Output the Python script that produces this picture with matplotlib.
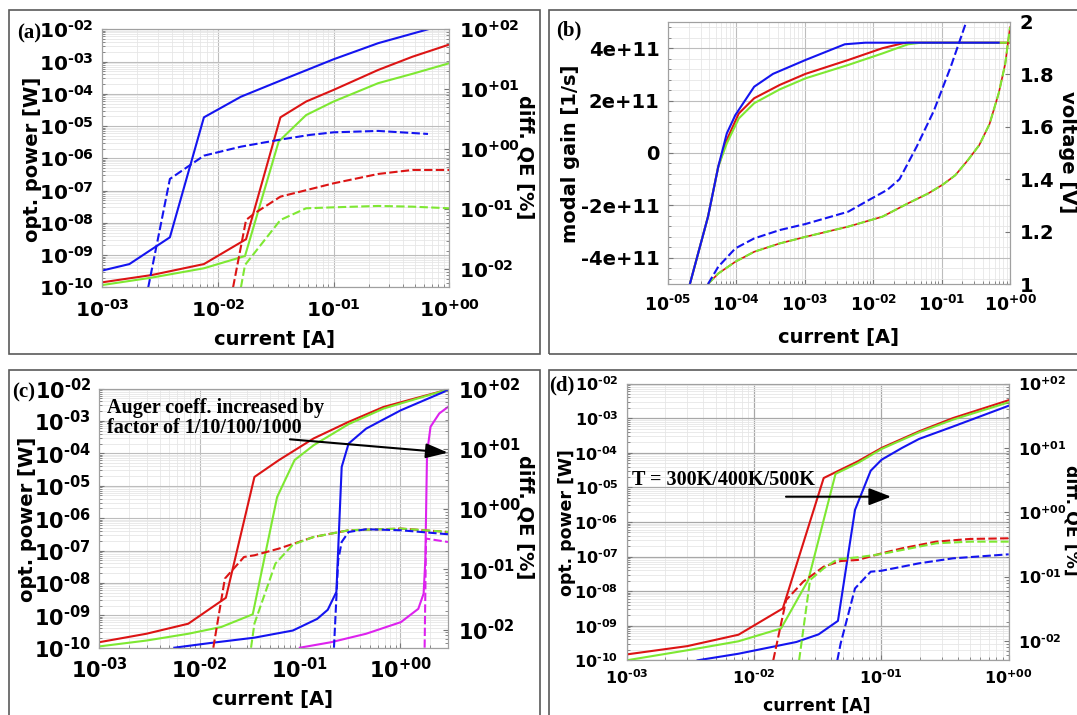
import numpy as np
import matplotlib
matplotlib.use('Agg')
import matplotlib.pyplot as plt
from matplotlib.patches import Rectangle
from matplotlib.ticker import LogLocator, FuncFormatter, MultipleLocator, AutoMinorLocator, NullFormatter

plt.rcParams['font.family'] = 'DejaVu Sans'
plt.rcParams['font.weight'] = 'bold'
plt.rcParams['mathtext.fontset'] = 'custom'
plt.rcParams['mathtext.rm'] = 'DejaVu Sans:bold'
plt.rcParams['mathtext.bf'] = 'DejaVu Sans:bold'
plt.rcParams['mathtext.it'] = 'DejaVu Sans:bold:italic'
plt.rcParams['mathtext.default'] = 'rm'

# ---- data (log10 of current [A], log10 of power [W] / QE [%]) ----
# (a)
a_blue_I = [-3.0, -2.766, -2.416, -2.122, -1.802, -1.446, -1.002, -0.616, -0.186, 0.0]
a_blue_P = [-9.48, -9.28, -8.45, -4.73, -4.09, -3.57, -2.93, -2.43, -2.0, -1.81]
a_red_I = [-3.0, -2.573, -2.122, -1.758, -1.461, -1.239, -1.002, -0.616, -0.320, 0.0]
a_red_P = [-9.845, -9.62, -9.28, -8.51, -4.73, -4.24, -3.88, -3.26, -2.85, -2.47]
a_green_I = [-3.0, -2.573, -2.122, -1.767, -1.476, -1.239, -1.002, -0.616, -0.320, 0.0]
a_green_P = [-9.93, -9.70, -9.41, -9.03, -5.48, -4.66, -4.24, -3.67, -3.38, -3.05]
a_blue_qI = [-2.603, -2.416, -2.122, -1.802, -1.446, -1.209, -1.002, -0.616, -0.186]
a_blue_Q = [-2.3, -0.494, -0.106, 0.044, 0.167, 0.239, 0.283, 0.306, 0.256]
a_red_qI = [-1.870, -1.758, -1.684, -1.461, -1.209, -1.002, -0.616, -0.320, 0.0]
a_red_Q = [-2.3, -1.178, -1.067, -0.789, -0.667, -0.567, -0.411, -0.344, -0.344]
a_green_qI = [-1.802, -1.767, -1.461, -1.239, -1.002, -0.616, -0.320, 0.0]
a_green_Q = [-2.3, -1.928, -1.178, -0.983, -0.967, -0.944, -0.956, -0.983]

# (b) modal gain [1e11 1/s] and voltage [V]
b_blue_I = [-4.68, -4.415, -4.265, -4.14, -4.015, -3.74, -3.465, -2.99, -2.415, -2.115, -0.165]
b_blue_G = [-5.0, -2.43, -0.52, 0.75, 1.45, 2.53, 3.02, 3.55, 4.15, 4.21, 4.21]
b_red_I = [-4.68, -4.415, -4.265, -4.14, -3.965, -3.74, -3.365, -2.99, -2.365, -1.865, -1.565, -1.49, 0.0]
b_red_G = [-5.0, -2.43, -0.52, 0.5, 1.51, 2.09, 2.60, 3.02, 3.55, 4.0, 4.19, 4.21, 4.21]
b_green_I = [-4.68, -4.415, -4.265, -4.14, -3.965, -3.74, -3.365, -2.99, -2.365, -1.865, -1.49, -1.3, 0.0]
b_green_G = [-5.0, -2.43, -0.52, 0.37, 1.32, 1.90, 2.43, 2.85, 3.36, 3.80, 4.15, 4.21, 4.21]
b_blue_vI = [-4.415, -4.265, -4.015, -3.74, -3.365, -2.99, -2.365, -2.06, -1.79, -1.615, -1.365, -1.115, -0.865, -0.64]
b_blue_V = [1.0, 1.066, 1.136, 1.174, 1.206, 1.229, 1.276, 1.321, 1.36, 1.40, 1.524, 1.66, 1.83, 2.0]
b_rg_vI = [-4.415, -4.265, -4.015, -3.74, -3.365, -2.99, -2.365, -1.865, -1.49, -1.2, -0.99,
           -0.8, -0.615, -0.45, -0.3, -0.165, -0.07, 0.0]
b_rg_V = [1.0, 1.04, 1.085, 1.123, 1.155, 1.18, 1.219, 1.257, 1.308, 1.345, 1.378,
          1.415, 1.473, 1.53, 1.61, 1.728, 1.84, 1.98]

# (c)
c_red_I = [-3.0, -2.531, -2.113, -1.738, -1.453, -1.209, -0.862, -0.514, -0.166, 0.477]
c_red_P = [-9.83, -9.57, -9.26, -8.46, -4.73, -4.21, -3.54, -3.03, -2.57, -2.03]
c_green_I = [-3.0, -2.531, -2.113, -1.783, -1.470, -1.227, -1.053, -0.862, -0.514, -0.166, 0.477]
c_green_P = [-9.96, -9.78, -9.57, -9.36, -8.97, -5.35, -4.21, -3.75, -3.10, -2.62, -2.03]
c_blue_I = [-2.252, -1.905, -1.453, -1.070, -0.827, -0.722, -0.636, -0.583, -0.514, -0.340, 0.008, 0.477]
c_blue_P = [-10.0, -9.86, -9.69, -9.47, -9.11, -8.83, -8.28, -4.42, -3.70, -3.24, -2.67, -2.05]
c_mag_I = [-1.0, -0.688, -0.340, 0.008, 0.181, 0.234, 0.251, 0.268, 0.303, 0.390, 0.477]
c_mag_P = [-10.0, -9.83, -9.57, -9.21, -8.80, -8.33, -7.30, -4.0, -3.18, -2.77, -2.57]
c_red_qI = [-1.863, -1.748, -1.557, -1.453, -1.209, -0.862, -0.514, 0.008, 0.477]
c_red_Q = [-2.3, -1.154, -0.795, -0.767, -0.656, -0.463, -0.352, -0.324, -0.380]
c_green_qI = [-1.487, -1.453, -1.244, -1.070, -0.862, -0.514, 0.008, 0.477]
c_green_Q = [-2.3, -1.90, -0.905, -0.59, -0.463, -0.352, -0.324, -0.38]
c_blue_qI = [-0.660, -0.618, -0.583, -0.514, -0.340, 0.008, 0.477]
c_blue_Q = [-2.3, -0.85, -0.546, -0.38, -0.335, -0.352, -0.418]
c_mag_qI = [0.244, 0.258, 0.477]
c_mag_Q = [-2.3, -0.49, -0.546]

# (d)
d_red_I = [-3.0, -2.524, -2.122, -1.774, -1.453, -1.320, -1.186, -0.998, -0.704, -0.436, 0.0]
d_red_P = [-9.83, -9.59, -9.26, -8.50, -4.73, -4.49, -4.25, -3.86, -3.38, -2.995, -2.48]
d_green_I = [-3.0, -2.524, -2.122, -1.788, -1.574, -1.360, -1.186, -0.998, -0.704, -0.436, 0.0]
d_green_P = [-10.0, -9.71, -9.45, -9.08, -7.68, -4.61, -4.30, -3.89, -3.41, -3.04, -2.54]
d_blue_I = [-2.443, -2.122, -1.667, -1.493, -1.341, -1.207, -1.084, -0.998, -0.838, -0.704, -0.436, 0.0]
d_blue_P = [-10.0, -9.81, -9.47, -9.25, -8.86, -5.65, -4.52, -4.20, -3.86, -3.60, -3.24, -2.64]
d_red_qI = [-1.849, -1.748, -1.614, -1.453, -1.320, -1.186, -0.998, -0.838, -0.570, -0.302, 0.0]
d_red_Q = [-2.3, -1.364, -1.079, -0.845, -0.757, -0.741, -0.638, -0.560, -0.456, -0.414, -0.404]
d_green_qI = [-1.646, -1.560, -1.453, -1.346, -1.186, -0.998, -0.838, -0.570, -0.302, 0.0]
d_green_Q = [-2.3, -1.053, -0.871, -0.731, -0.700, -0.648, -0.586, -0.482, -0.456, -0.456]
d_blue_qI = [-1.346, -1.320, -1.207, -1.084, -0.998, -0.704, -0.436, 0.0]
d_blue_Q = [-2.3, -2.04, -1.183, -0.923, -0.908, -0.793, -0.715, -0.653]

BLUE = '#1414f0'
RED = '#dc1414'
GREEN = '#7ee832'
MAGENTA = '#dd22ee'
LW = 1.5
DASH = (4, 1.6)

W, H = 1077, 715
fig = plt.figure(figsize=(W / 100, H / 100), dpi=100)


def rect(l, t, r, b):
    return [l / W, 1 - b / H, (r - l) / W, (b - t) / H]


def ftext(x, y, s, **kw):
    fig.text(x / W, 1 - y / H, s, ha=kw.pop('ha', 'center'), va='center', **kw)


def pow_fmt(v, pos):
    # exponent with a plain hyphen, like "10^-02" / "10^+00"
    e = int(round(np.log10(v)))
    sign = '+' if e >= 0 else '\u2010'
    return r'$10^{%s%02d}$' % (sign, abs(e))


def log_axis(axis):
    axis.set_major_locator(LogLocator(base=10, numticks=30))
    axis.set_minor_locator(LogLocator(base=10, subs=np.arange(2, 10) * 1.0, numticks=30))
    axis.set_major_formatter(FuncFormatter(pow_fmt))
    axis.set_minor_formatter(NullFormatter())


def style(ax, size):
    ax.set_axisbelow(True)
    ax.grid(which='major', color='#bdbdbd', lw=0.8)
    ax.grid(which='minor', color='#e6e6e6', lw=0.6)
    for s in ax.spines.values():
        s.set_color('#a0a0a0')
    ax.tick_params(which='both', direction='in', color='#777777', labelsize=size, pad=6)
    ax.tick_params(which='minor', length=2)
    ax.tick_params(which='major', length=3.5)


def L(v):
    return 10 ** np.array(v)


def power_panel(pos, xmax, size, solid, dashed):
    ax = fig.add_axes(rect(*pos))
    ax.set_xscale('log')
    ax.set_yscale('log')
    log_axis(ax.xaxis)
    log_axis(ax.yaxis)
    ax.set_xlim(1e-3, xmax)
    ax.set_ylim(1e-10, 1e-2)
    style(ax, size)
    for x, y, c in solid:
        ax.plot(L(x), L(y), color=c, lw=LW)
    ax2 = ax.twinx()
    ax2.set_yscale('log')
    log_axis(ax2.yaxis)
    ax2.set_ylim(10 ** -2.3, 1e2)
    for s in ax2.spines.values():
        s.set_color('#a0a0a0')
    ax2.tick_params(which='both', direction='in', color='#777777', labelsize=size, pad=7)
    ax2.tick_params(which='minor', length=2)
    for x, y, c in dashed:
        ax2.plot(L(x), L(y), color=c, lw=LW, dashes=DASH)
    return ax, ax2


# panel frames
for fr in [(8.5, 9.5, 540, 354), (549, 9.5, 1090, 354), (8.5, 370, 540, 725), (549, 370, 1090, 725)]:
    l, t, r, b = fr
    fig.add_artist(Rectangle((l / W, 1 - b / H), (r - l) / W, (b - t) / H,
                             transform=fig.transFigure, fill=False, ec='#5a5a5a', lw=1.2))

serif = dict(family='Liberation Serif', fontweight='bold')

# ---- (a) ----
axa, axa2 = power_panel((102.3, 29.3, 449.5, 287.3), 1.0, 14.5,
                        [(a_red_I, a_red_P, RED), (a_green_I, a_green_P, GREEN), (a_blue_I, a_blue_P, BLUE)],
                        [(a_red_qI, a_red_Q, RED), (a_green_qI, a_green_Q, GREEN), (a_blue_qI, a_blue_Q, BLUE)])
axa.tick_params(axis='x', pad=8)
ftext(29, 33, '(a)', fontsize=15, **serif)
ftext(33, 159, 'opt. power [W]', rotation=90, fontsize=14)
ftext(525, 157, 'diff. QE [%]', rotation=270, fontsize=14)
ftext(275, 340, 'current [A]', fontsize=14)

# ---- (b) ----
axb = fig.add_axes(rect(668, 22, 1010, 284))
axb.set_xscale('log')
log_axis(axb.xaxis)
axb.set_xlim(1e-5, 1.0)
axb.set_ylim(-5e11, 5e11)
axb.yaxis.set_major_locator(MultipleLocator(2e11))
axb.yaxis.set_minor_locator(AutoMinorLocator(5))
axb.yaxis.set_major_formatter(FuncFormatter(lambda v, p: '0' if abs(v) < 1 else '%.0e' % v))
style(axb, 12.5)
axb.tick_params(axis='y', labelsize=14)
axb.tick_params(axis='x', pad=8)
axb.plot(L(b_red_I), np.array(b_red_G) * 1e11, color=RED, lw=LW)
axb.plot(L(b_green_I), np.array(b_green_G) * 1e11, color=GREEN, lw=LW)
axb.plot(L(b_blue_I), np.array(b_blue_G) * 1e11, color=BLUE, lw=LW)
axb2 = axb.twinx()
axb2.set_ylim(1, 2)
axb2.yaxis.set_major_locator(MultipleLocator(0.2))
axb2.yaxis.set_major_formatter(FuncFormatter(lambda v, p: '%g' % round(v, 1)))
for s in axb2.spines.values():
    s.set_color('#a0a0a0')
axb2.tick_params(direction='in', color='#777777', labelsize=14, pad=7, length=3.5)
axb2.plot(L(b_rg_vI), b_rg_V, color=RED, lw=1.2)
axb2.plot(L(b_rg_vI), b_rg_V, color=GREEN, lw=LW, dashes=DASH)
axb2.plot(L(b_blue_vI), b_blue_V, color=BLUE, lw=LW, dashes=DASH)
ftext(569, 30, '(b)', fontsize=15, **serif)
ftext(571, 154, 'modal gain [1/s]', rotation=90, fontsize=14)
ftext(1067, 152, 'voltage [V]', rotation=270, fontsize=14)
ftext(839, 338, 'current [A]', fontsize=14)

# ---- (c) ----
axc, axc2 = power_panel((99.3, 388.5, 448, 647.7), 3.0, 15,
                        [(c_red_I, c_red_P, RED), (c_green_I, c_green_P, GREEN),
                         (c_blue_I, c_blue_P, BLUE), (c_mag_I, c_mag_P, MAGENTA)],
                        [(c_red_qI, c_red_Q, RED), (c_green_qI, c_green_Q, GREEN),
                         (c_blue_qI, c_blue_Q, BLUE), (c_mag_qI, c_mag_Q, MAGENTA)])
axc.tick_params(axis='x', pad=7)
axc.annotate('', xy=(10 ** 0.477, 10 ** -3.98), xytext=(10 ** -1.099, 10 ** -3.568),
             arrowprops=dict(arrowstyle='-|>,head_length=0.9,head_width=0.3', color='k', lw=1.5,
                             mutation_scale=15, shrinkA=0, shrinkB=0), annotation_clip=False)
ftext(107, 418, 'Auger coeff. increased by\nfactor of 1/10/100/1000', ha='left',
      fontsize=14.5, linespacing=1.0, **serif)
ftext(24, 392, '(c)', fontsize=15, **serif)
ftext(28, 519, 'opt. power [W]', rotation=90, fontsize=14)
ftext(525, 517, 'diff. QE [%]', rotation=270, fontsize=14)
ftext(273, 700, 'current [A]', fontsize=14)

# ---- (d) ----
axd, axd2 = power_panel((626.7, 383.6, 1008.7, 660.3), 1.0, 11.5,
                        [(d_red_I, d_red_P, RED), (d_green_I, d_green_P, GREEN), (d_blue_I, d_blue_P, BLUE)],
                        [(d_red_qI, d_red_Q, RED), (d_green_qI, d_green_Q, GREEN), (d_blue_qI, d_blue_Q, BLUE)])
axd.grid(which='major', color='#a8a8a8', lw=0.9)
axd.annotate('', xy=(10 ** -0.924, 10 ** -5.27), xytext=(10 ** -1.749, 10 ** -5.27),
             arrowprops=dict(arrowstyle='-|>,head_length=0.9,head_width=0.35', color='k', lw=1.5,
                             mutation_scale=15, shrinkA=0, shrinkB=0))
ftext(632.5, 480, 'T = 300K/400K/500K', ha='left', fontsize=14.5, **serif)
ftext(562, 385, '(d)', fontsize=15, **serif)
ftext(567, 523, 'opt. power [W]', rotation=90, fontsize=12.5)
ftext(1072, 520, 'diff. QE [%]', rotation=270, fontsize=12.5)
ftext(817, 706, 'current [A]', fontsize=12.5)

fig.savefig('out.png', dpi=100)
